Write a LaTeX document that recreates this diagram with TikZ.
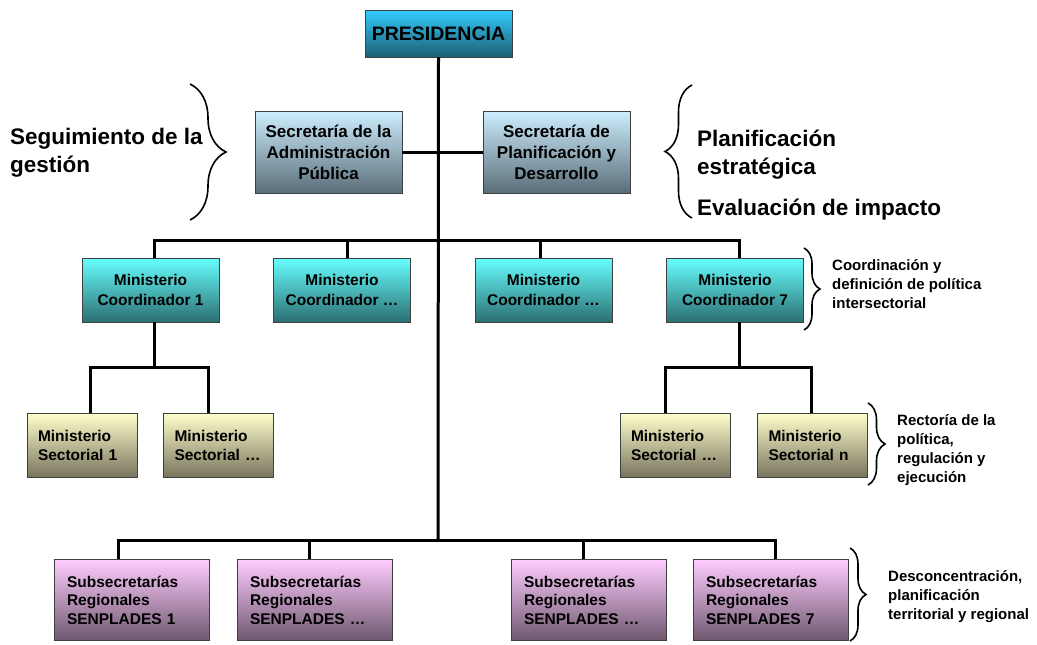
\documentclass[tikz,border=0pt]{standalone}
\usepackage{fontspec}
\setmainfont{Liberation Sans}
\usetikzlibrary{decorations.pathreplacing}

\definecolor{presArriba}{HTML}{33CCFF}
\definecolor{presAbajo}{HTML}{1C5F72}
\definecolor{secArriba}{HTML}{CDEEFF}
\definecolor{secAbajo}{HTML}{5A6D78}
\definecolor{coordArriba}{HTML}{66FFFF}
\definecolor{coordAbajo}{HTML}{2C6F72}
\definecolor{sectArriba}{HTML}{FFFFCC}
\definecolor{sectAbajo}{HTML}{7A755E}
\definecolor{subArriba}{HTML}{FFCCFF}
\definecolor{subAbajo}{HTML}{6E586F}

\begin{document}
\begin{tikzpicture}[x=1pt, y=-1pt,
    caja/.style={draw=black!75, line width=0.8pt, inner sep=0pt, align=center},
    pres/.style={caja, minimum width=147pt, minimum height=47pt,
        top color=presArriba, bottom color=presAbajo,
        font=\fontsize{19.5}{23}\selectfont\bfseries},
    secre/.style={caja, minimum width=147pt, minimum height=82pt,
        top color=secArriba, bottom color=secAbajo,
        font=\fontsize{17}{21}\selectfont\bfseries},
    coord/.style={caja, minimum width=137pt, minimum height=64pt,
        top color=coordArriba, bottom color=coordAbajo,
        font=\fontsize{15.5}{20}\selectfont\bfseries},
    sector/.style={caja, minimum width=110pt, minimum height=64pt,
        align=left, text width=88pt,
        top color=sectArriba, bottom color=sectAbajo,
        font=\fontsize{15.5}{19}\selectfont\bfseries},
    subs/.style={caja, minimum width=155pt, minimum height=81pt,
        align=left, text width=129pt,
        top color=subArriba, bottom color=subAbajo,
        font=\fontsize{15.5}{18.5}\selectfont\bfseries},
    nota/.style={anchor=west, align=left, inner sep=0pt,
        font=\fontsize{15}{19}\selectfont\bfseries},
    notag/.style={anchor=west, align=left, inner sep=0pt,
        font=\fontsize{22.5}{28}\selectfont\bfseries},
    linea/.style={line width=3pt},
    llave/.style={line width=1.6pt, decorate, decoration={brace, amplitude=#1}}]
    \useasboundingbox (0,0) rectangle (1037,645);

    % Presidencia y secretarias
    \node[pres] (pres) at (438.5,33.5) {PRESIDENCIA};
    \node[secre] (secA) at (328.5,152) {Secretaría de la\\Administración\\Pública};
    \node[secre] (secP) at (556.5,152) {Secretaría de\\Planificación y\\Desarrollo};

    % Ministerios coordinadores
    \node[coord] (c1) at (150.5,290) {Ministerio\\Coordinador 1};
    \node[coord] (c2) at (342,290) {Ministerio\\Coordinador~…};
    \node[coord] (c3) at (543.5,290) {Ministerio\\Coordinador~…};
    \node[coord] (c4) at (735,290) {Ministerio\\Coordinador 7};

    % Ministerios sectoriales
    \node[sector] (s1) at (82,445) {Ministerio\\Sectorial 1};
    \node[sector] (s2) at (218.5,445) {Ministerio\\Sectorial~…};
    \node[sector] (s3) at (675,445) {Ministerio\\Sectorial~…};
    \node[sector] (s4) at (812.5,445) {Ministerio\\Sectorial n};

    % Subsecretarias regionales
    \node[subs] (b1) at (131.5,600) {Subsecretarías\\Regionales\\SENPLADES 1};
    \node[subs] (b2) at (314.5,600) {Subsecretarías\\Regionales\\SENPLADES~…};
    \node[subs] (b3) at (588.5,600) {Subsecretarías\\Regionales\\SENPLADES~…};
    \node[subs] (b4) at (770.5,600) {Subsecretarías\\Regionales\\SENPLADES 7};

    % Lineas
    \coordinate (bus1) at (438,240);
    \coordinate (bus2) at (438,540);
    \draw[linea] (pres.south) -- (bus2);
    \draw[linea] (secA.east) -- (secP.west);
    \draw[linea] ([xshift=4pt]c1.north) |- (bus1) -| ([xshift=4pt]c4.north);
    \draw[linea] ([xshift=5pt]c2.north) -- ++(0,-18);
    \draw[linea] ([xshift=-3pt]c3.north) -- ++(0,-18);
    \draw[linea] ([xshift=4pt]c1.south) -- ++(0,45) coordinate (r1);
    \draw[linea] ([xshift=8pt]s1.north) |- (r1) -| ([xshift=-10pt]s2.north);
    \draw[linea] ([xshift=4pt]c4.south) -- ++(0,45) coordinate (r2);
    \draw[linea] ([xshift=-10pt]s3.north) |- (r2) -| ([xshift=-1pt]s4.north);
    \draw[linea] ([xshift=-13pt]b1.north) |- (bus2) -| ([xshift=5pt]b4.north);
    \draw[linea] ([xshift=-5pt]b2.north) -- ++(0,-20);
    \draw[linea] ([xshift=-5pt]b3.north) -- ++(0,-20);

    % Llaves y notas
    \draw[llave=36pt] (190,84) -- (190,220);
    \node[notag] (seg) at (10,153) {Seguimiento de la\\gestión};
    \draw[llave=27pt] (692,218) -- (692,85);
    \node[notag] (plan) at (697,155) {Planificación\\estratégica};
    \node[notag] (eval) at (697,210) {Evaluación de impacto};
    \draw[llave=16pt] (804,248) -- (804,330);
    \node[nota] (ncoord) at (832,284) {Coordinación y\\definición de política\\intersectorial};
    \draw[llave=17pt] (868,403) -- (868,485);
    \node[nota] (nsect) at (897,450) {Rectoría de la\\política,\\regulación y\\ejecución};
    \draw[llave=16pt] (850,548) -- (850,641);
    \node[nota] (nsub) at (888,597) {Desconcentración,\\planificación\\territorial y regional};
\end{tikzpicture}
\end{document}
